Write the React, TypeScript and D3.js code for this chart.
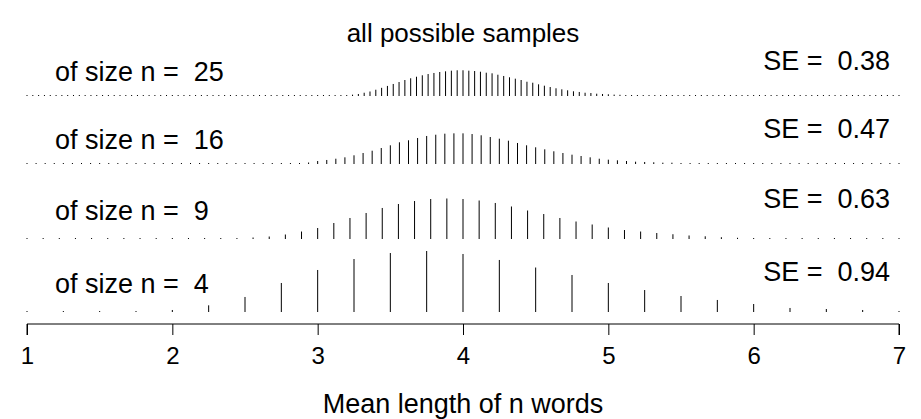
import * as d3 from 'd3';
import { useEffect, useRef } from 'react';

// sample sizes, top panel first
const sizes = [25, 16, 9, 4];
const seLabels = ['0.38', '0.47', '0.63', '0.94'];
const xTicks = [1, 2, 3, 4, 5, 6, 7];

// percent of all samples at each possible mean 1, 1 + 1/n, ..., 7
const pctN25 = [
  0, 0, 0, 0, 0, 0, 0, 0, 0, 0, 0, 0, 0, 0, 0, 0, 0, 0, 0, 0,
  0, 0, 0, 0, 0, 0, 0, 0, 0, 0, 0, 0, 0, 0, 0, 0, 0, 0, 0, 0,
  0, 0, 0, 0, 0, 0, 0, 0, 0, 0, 0, 0, 0, 0.05, 0.07, 0.1, 0.23, 0.35, 0.57, 0.78,
  1.09, 1.42, 1.75, 2.09, 2.43, 2.78, 3.08, 3.35, 3.6, 3.82, 4.0, 4.17, 4.29, 4.4, 4.47, 4.47, 4.4, 4.34, 4.22, 4.05,
  3.94, 3.7, 3.48, 3.25, 3.01, 2.78, 2.48, 2.31, 2.03, 1.79, 1.56, 1.34, 1.16, 0.99, 0.82, 0.7, 0.57, 0.52, 0.4, 0.35,
  0.3, 0.24, 0.21, 0.17, 0.14, 0.1, 0.09, 0, 0, 0, 0, 0, 0, 0, 0, 0, 0, 0, 0, 0,
  0, 0, 0, 0, 0, 0, 0, 0, 0, 0, 0, 0, 0, 0, 0, 0, 0, 0, 0, 0,
  0, 0, 0, 0, 0, 0, 0, 0, 0, 0, 0
];
const pctN16 = [
  0, 0, 0, 0, 0, 0, 0, 0, 0, 0, 0, 0, 0, 0, 0, 0, 0, 0, 0, 0,
  0, 0, 0, 0, 0, 0, 0, 0.05, 0.07, 0.1, 0.16, 0.26, 0.52, 0.7, 0.92, 1.16, 1.51, 1.91, 2.31, 2.78,
  3.25, 3.77, 4.12, 4.52, 4.87, 5.09, 5.27, 5.33, 5.33, 5.21, 4.99, 4.69, 4.4, 4.05, 3.65, 3.25, 2.9, 2.55, 2.21, 1.91,
  1.62, 1.39, 1.16, 0.92, 0.75, 0.64, 0.52, 0.4, 0.35, 0.3, 0.23, 0.23, 0.17, 0.14, 0.1, 0.09, 0.07, 0, 0, 0,
  0, 0, 0, 0, 0, 0, 0, 0, 0, 0, 0, 0, 0, 0, 0, 0, 0
];
const pctN9 = [
  0, 0, 0, 0, 0, 0, 0, 0, 0, 0, 0, 0, 0.05, 0.17, 0.26, 0.43, 0.78, 1.3, 1.91, 2.78,
  3.65, 4.52, 5.39, 6.08, 6.6, 6.95, 7.04, 6.95, 6.69, 6.26, 5.65, 4.95, 4.34, 3.65, 3.04, 2.52, 2.0, 1.56, 1.3, 1.04,
  0.83, 0.61, 0.47, 0.31, 0.21, 0.14, 0.09, 0, 0, 0, 0, 0, 0, 0, 0
];
const pctN4 = [
  0, 0.03, 0.05, 0.1, 0.35, 1.16, 2.61, 5.04, 7.3, 9.21, 10.25, 10.6, 10.08, 9.04, 7.73, 6.43, 5.04, 3.82, 2.78, 2.09,
  1.39, 0.7, 0.52, 0.35, 0.09
];
const panelPcts = [pctN25, pctN16, pctN9, pctN4];

const width = 921;
const height = 419;
const font = 'Liberation Sans, Arial, Helvetica, sans-serif';

// baseline of each panel, and where its two labels sit
const baselines = [96, 164, 239, 312];
const labelY = [81, 149, 220, 293];
const seY = [70, 138, 208, 281];

const App = () => {
  const ref = useRef(null);

  useEffect(() => {
    const svg = d3.select(ref.current);
    svg.selectAll('*').remove();

    const xScale = d3.scaleLinear().domain([1, 7]).range([27, 899]);
    const hScale = d3.scaleLinear().domain([0, 11]).range([0, 63.3]);

    svg.append('text')
      .attr('x', xScale(4))
      .attr('y', 42)
      .attr('text-anchor', 'middle')
      .style('font-size', '26px')
      .text('all possible samples');

    sizes.forEach((n, p) => {
      const base = baselines[p];
      const g = svg.append('g');

      g.selectAll('line')
        .data(panelPcts[p])
        .enter()
        .append('line')
        .attr('x1', (d, i) => xScale(1 + i / n))
        .attr('x2', (d, i) => xScale(1 + i / n))
        .attr('y1', base)
        .attr('y2', d => base - Math.max(1, hScale(d)))
        .attr('stroke', '#000')
        .attr('stroke-width', 1);

      g.append('text')
        .attr('x', 55)
        .attr('y', labelY[p])
        .style('font-size', '27px')
        .style('white-space', 'pre')
        .text(`of size n =  ${n}`);

      g.append('text')
        .attr('x', 890)
        .attr('y', seY[p])
        .attr('text-anchor', 'end')
        .style('font-size', '27px')
        .style('white-space', 'pre')
        .text(`SE =  ${seLabels[p]}`);
    });

    // x axis
    const axis = svg.append('g')
      .attr('transform', 'translate(0, 324)')
      .attr('font-size', 24)
      .attr('font-family', font)
      .call(d3.axisBottom(xScale).tickValues(xTicks).tickFormat(d3.format('d')).tickSize(11).tickPadding(12));
    axis.select('.domain').attr('stroke', '#000').attr('d', `M${xScale(1)},11V0H${xScale(7)}V11`);
    axis.selectAll('.tick line').attr('stroke', '#000');
    axis.selectAll('.tick text')
      .attr('fill', '#000')
      .style('font-size', '24px');

    svg.append('text')
      .attr('x', xScale(4))
      .attr('y', 413)
      .attr('text-anchor', 'middle')
      .style('font-size', '27px')
      .text('Mean length of n words');
  }, []);

  return (
    <svg
      ref={ref}
      width={width}
      height={height}
      style={{ display: 'block', position: 'absolute', left: 0, top: 0, fontFamily: font, background: '#fff' }}
    />
  );
};

export default App;
